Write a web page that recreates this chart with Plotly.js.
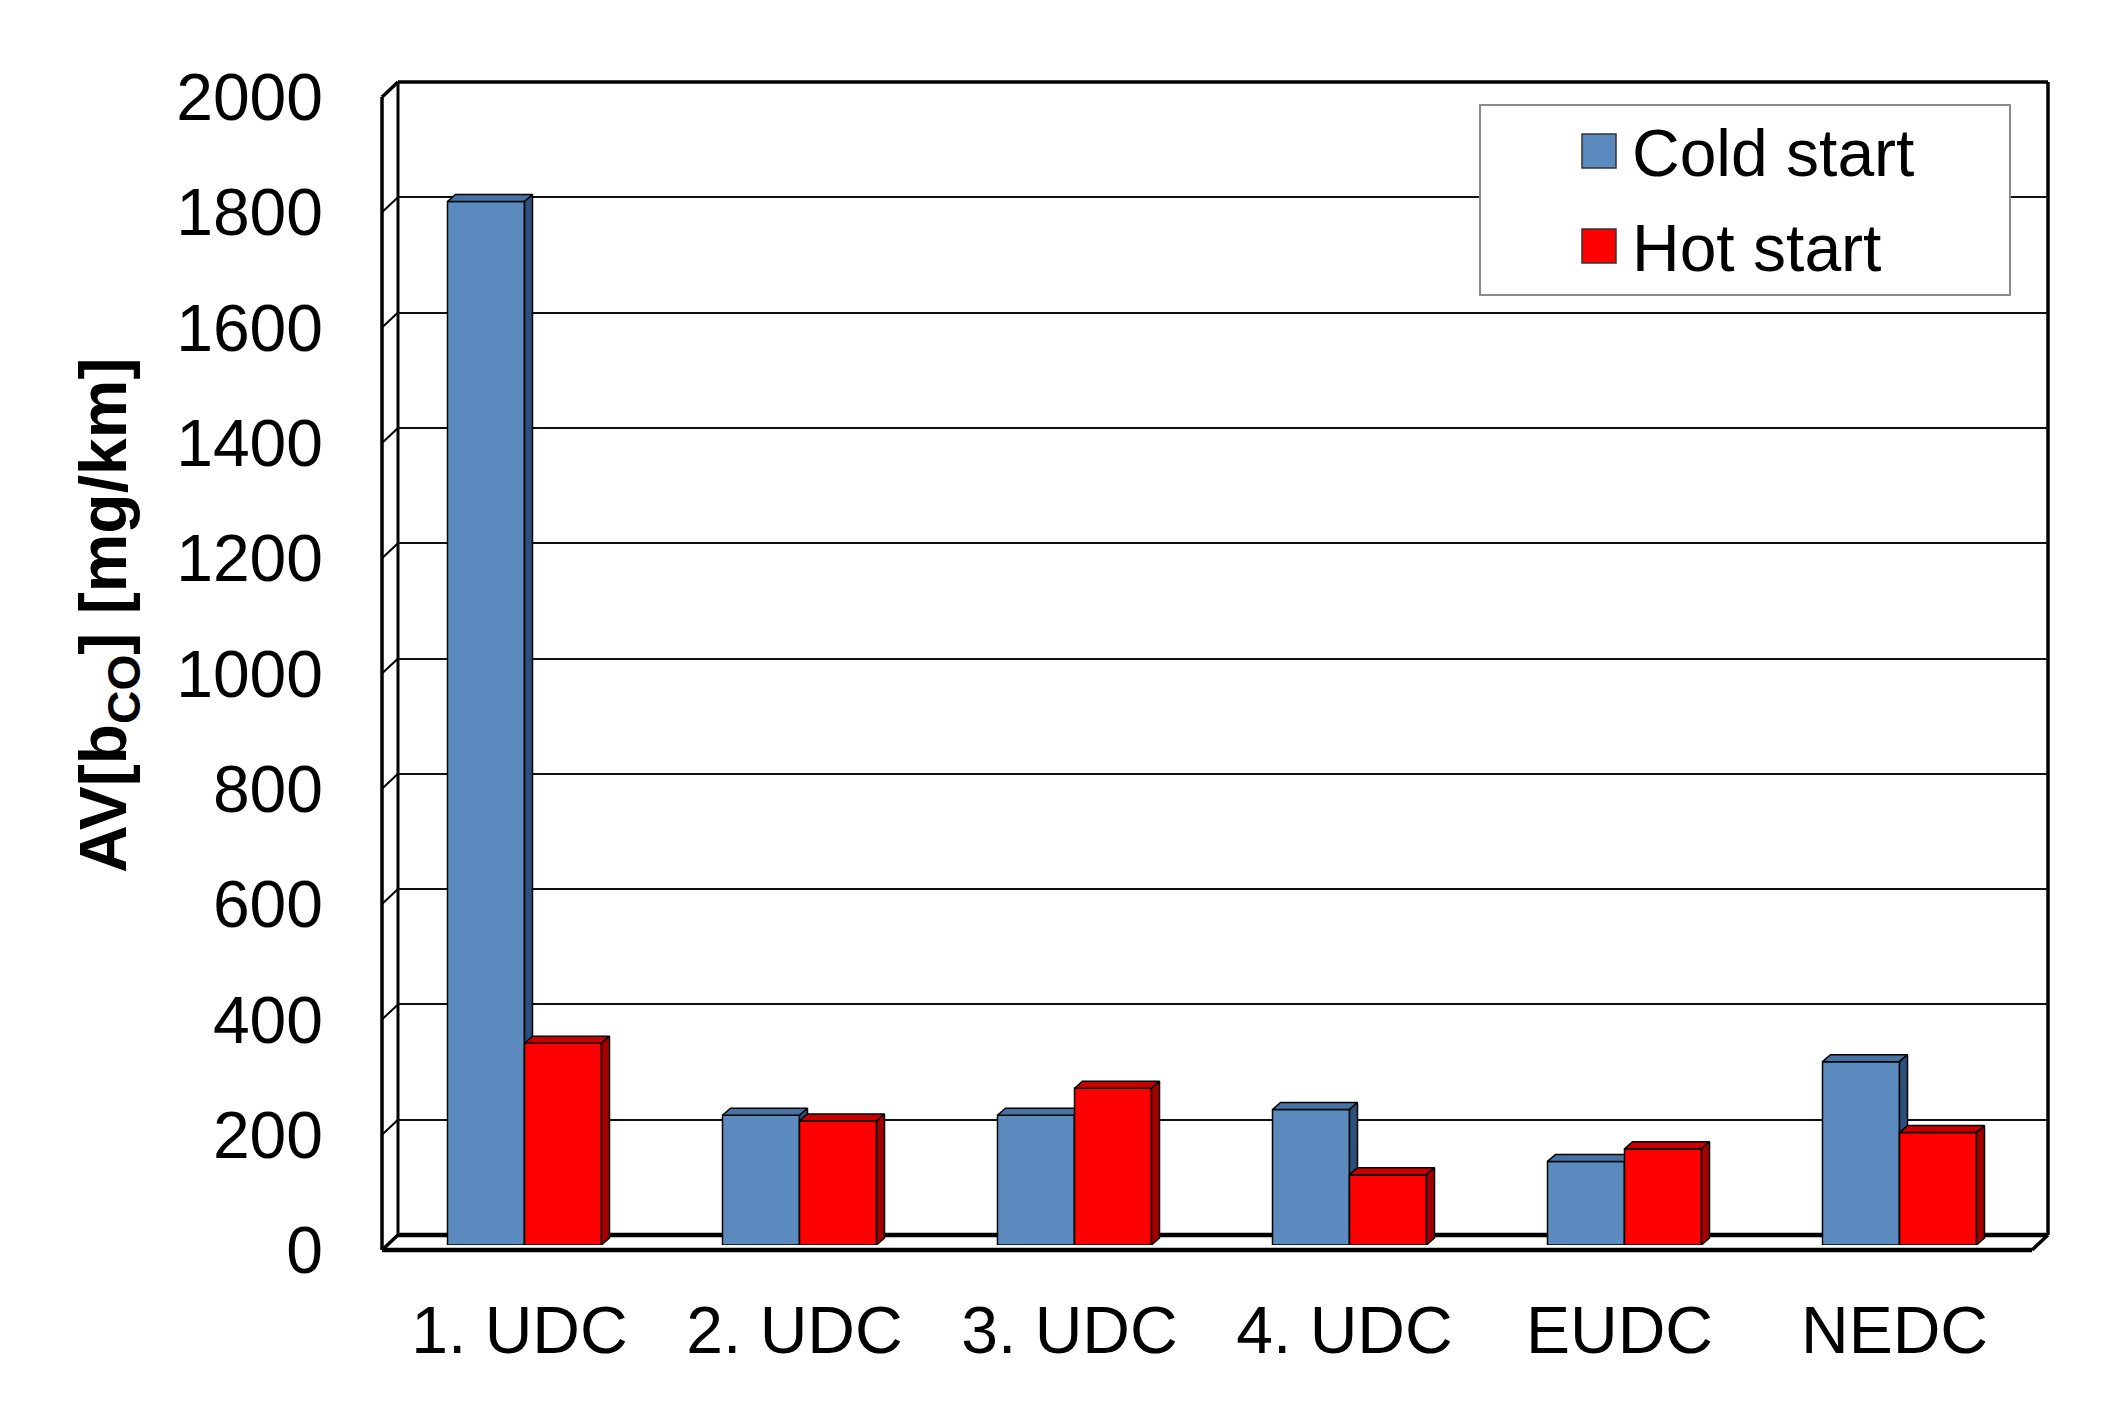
<!DOCTYPE html>
<html>
<head>
<meta charset="utf-8">
<script src="https://cdn.plot.ly/plotly-3.0.1.min.js"></script>
<style>html,body{margin:0;padding:0;background:#fff;}#chart{width:2120px;height:1403px;}</style>
</head>
<body>
<div id="chart"></div>
<script>
// ---- data ----
const categories = ['1. UDC', '2. UDC', '3. UDC', '4. UDC', 'EUDC', 'NEDC'];
const coldStart = [1810, 225, 225, 235, 145, 318];
const hotStart = [350, 215, 272, 122, 167, 195];
const yTicks = [0, 200, 400, 600, 800, 1000, 1200, 1400, 1600, 1800, 2000];
const seriesNames = ['Cold start', 'Hot start'];
const yTitle = '<b>AV[b<sub>CO</sub>] [mg/km]</b>';

// ---- geometry (pixels) ----
const W = 2120, H = 1403;
const ML = 382, MR = 72, MT = 82, MB = 153;
const PW = W - ML - MR, PH = H - MT - MB;
const fx = p => (p - ML) / PW;
const fy = p => (H - MB - p) / PH;
const YMAX = 2000;
const N = categories.length;
const PLOTW = 1650, PLOTH = 1153;
// front plane (labels), back wall (grid), bar plane
const front = {x0: 382, y0: 1250};
const back = {x0: 398, y0: 1235};
const mid = {x0: 387, y0: 1245};
const dom = p => ({x: [fx(p.x0), fx(p.x0 + PLOTW)], y: [fy(p.y0), fy(p.y0 - PLOTH)]});

const catPx = PLOTW / N;
const DX = 8 / catPx;              // depth offset of bar faces (category units)
const DY = 7 / PLOTH * YMAX;       // depth offset (value units)
const BW = 77 / catPx;             // bar width

const font = 'Liberation Sans, Arial, sans-serif';
const colors = {
  cold: {front: '#5b8bbe', top: '#4672a4', side: '#2c4f7b'},
  hot: {front: '#ff0000', top: '#c80000', side: '#a30000'}
};

function faces(vals, offset) {
  const top = {x: [], y: []}, side = {x: [], y: []};
  vals.forEach((v, i) => {
    const xl = i + offset, xr = xl + BW;
    top.x.push(xl, xr, xr + DX, xl + DX, xl, null);
    top.y.push(v, v, v + DY, v + DY, v, null);
    side.x.push(xr, xr, xr + DX, xr + DX, xr, null);
    side.y.push(0, v, v + DY, DY, 0, null);
  });
  return {top, side};
}

const xs = categories.map((c, i) => i);
function series(vals, name, col, offset, xa, ya) {
  const f = faces(vals, offset);
  return [
    {type: 'bar', x: xs, y: vals, name: name, width: BW, offset: offset,
     marker: {color: col.front, line: {color: '#000', width: 1.5}},
     xaxis: xa, yaxis: ya, hoverinfo: 'skip', showlegend: false},
    {type: 'scatter', mode: 'lines', x: f.top.x, y: f.top.y, fill: 'toself',
     fillcolor: col.top, line: {color: '#000', width: 1.5}, xaxis: xa, yaxis: ya,
     hoverinfo: 'skip', showlegend: false},
    {type: 'scatter', mode: 'lines', x: f.side.x, y: f.side.y, fill: 'toself',
     fillcolor: col.side, line: {color: '#000', width: 1.5}, xaxis: xa, yaxis: ya,
     hoverinfo: 'skip', showlegend: false}
  ];
}

const traces = [
  {type: 'scatter', x: [], y: [], xaxis: 'x', yaxis: 'y', showlegend: false, hoverinfo: 'skip'},
  {type: 'scatter', x: [], y: [], xaxis: 'x2', yaxis: 'y2', showlegend: false, hoverinfo: 'skip'},
  ...series(coldStart, seriesNames[0], colors.cold, -BW, 'x3', 'y3'),
  ...series(hotStart, seriesNames[1], colors.hot, 0, 'x4', 'y4')
];

const xr = [-0.5, N - 0.5];
const yr = [0, YMAX];
const hidden = {showgrid: false, zeroline: false, showline: false, showticklabels: false, ticks: '', fixedrange: true};
const dF = dom(front), dB = dom(back), dM = dom(mid);

const layout = {
  width: W, height: H,
  margin: {l: ML, r: MR, t: MT, b: MB, pad: 0},
  paper_bgcolor: '#ffffff',
  plot_bgcolor: 'rgba(0,0,0,0)',
  showlegend: false,
  font: {family: font, color: '#000', size: 66},
  xaxis: Object.assign({}, hidden, {domain: dF.x, range: xr, anchor: 'y', showticklabels: true,
    tickmode: 'array', tickvals: xs, ticktext: categories, ticklabelstandoff: 36,
    tickfont: {family: font, size: 66, color: '#000'}}),
  yaxis: Object.assign({}, hidden, {domain: dF.y, range: yr, anchor: 'x', showticklabels: true,
    tickmode: 'array', tickvals: yTicks, ticktext: yTicks.map(String), ticklabelstandoff: 58,
    tickfont: {family: font, size: 66, color: '#000'}}),
  xaxis2: Object.assign({}, hidden, {domain: dB.x, range: xr, anchor: 'y2'}),
  yaxis2: Object.assign({}, hidden, {domain: dB.y, range: yr, anchor: 'x2', showgrid: true,
    tickmode: 'array', tickvals: yTicks, gridcolor: '#111', gridwidth: 2}),
  xaxis3: Object.assign({}, hidden, {domain: dM.x, range: xr, anchor: 'y3'}),
  yaxis3: Object.assign({}, hidden, {domain: dM.y, range: yr, anchor: 'x3'}),
  xaxis4: Object.assign({}, hidden, {domain: dM.x, range: xr, anchor: 'y4'}),
  yaxis4: Object.assign({}, hidden, {domain: dM.y, range: yr, anchor: 'x4'}),
  shapes: [],
  annotations: []
};

function pline(x0, y0, x1, y1, w, layer) {
  layout.shapes.push({type: 'line', xref: 'paper', yref: 'paper',
    x0: fx(x0), y0: fy(y0), x1: fx(x1), y1: fy(y1),
    line: {color: '#000', width: w}, layer: layer || 'below'});
}
const yB = v => back.y0 - v / YMAX * PLOTH;
const yF = v => front.y0 - v / YMAX * PLOTH;
const xBR = back.x0 + PLOTW, xFR = front.x0 + PLOTW;
// back wall
pline(back.x0, yB(YMAX), back.x0, yB(0), 3);
pline(back.x0, yB(YMAX), xBR, yB(YMAX), 3.5);
pline(xBR, yB(YMAX), xBR, yB(0), 3.5);
pline(back.x0, yB(0), xBR, yB(0), 4.5);
// left wall
pline(front.x0, yF(YMAX), front.x0, yF(0), 3.5);
yTicks.forEach(v => pline(front.x0, yF(v), back.x0, yB(v), v === 0 || v === YMAX ? 3.5 : 2));
// floor front
pline(front.x0, yF(0), xFR, yF(0), 4.5, 'above');
pline(xBR, yB(0), xFR, yF(0), 3.5, 'above');

// legend box
const LG = {x0: 1480, y0: 105, x1: 2010, y1: 295};
layout.shapes.push({type: 'rect', xref: 'paper', yref: 'paper',
  x0: fx(LG.x0), x1: fx(LG.x1), y0: fy(LG.y1), y1: fy(LG.y0),
  fillcolor: '#ffffff', line: {color: '#8a8a8a', width: 2}, layer: 'above'});
const legRows = [151, 246];
[colors.cold.front, colors.hot.front].forEach((c, k) => {
  const cy = legRows[k];
  layout.shapes.push({type: 'rect', xref: 'paper', yref: 'paper',
    x0: fx(1582), x1: fx(1616), y0: fy(cy + 17), y1: fy(cy - 17),
    fillcolor: c, line: {color: '#333', width: 1.5}, layer: 'above'});
  layout.annotations.push({xref: 'paper', yref: 'paper', x: fx(1630), y: fy(cy + 2),
    xanchor: 'left', yanchor: 'middle', text: seriesNames[k], showarrow: false,
    font: {family: font, size: 66, color: '#000'}});
});

// y title
layout.annotations.push({xref: 'paper', yref: 'paper', x: fx(108), y: fy(616),
  xanchor: 'center', yanchor: 'middle', textangle: -90, text: yTitle, showarrow: false,
  font: {family: font, size: 66, color: '#000'}});

Plotly.newPlot('chart', traces, layout, {displayModeBar: false, staticPlot: true});
</script>
</body>
</html>
